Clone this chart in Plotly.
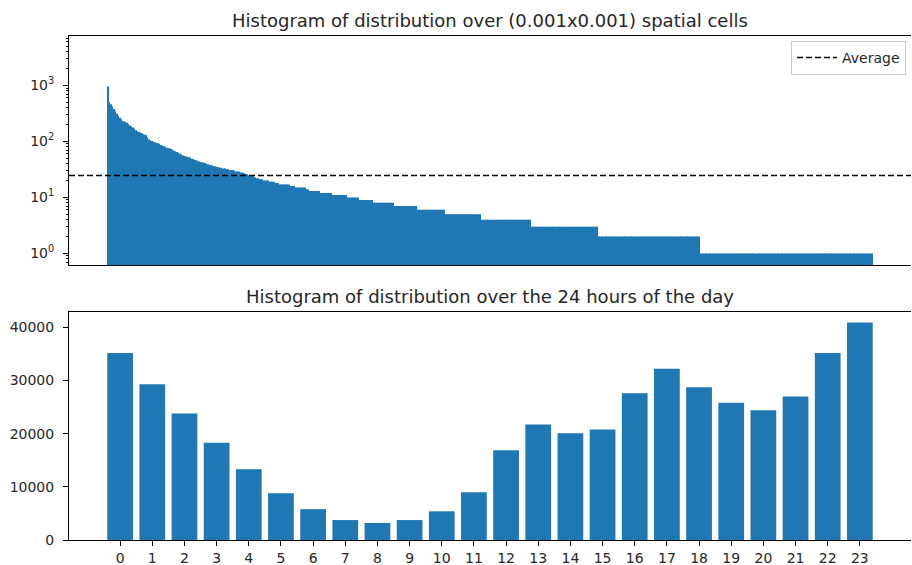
import math
import plotly.graph_objects as go

# ---------------- data ----------------
# Top chart: counts per spatial cell, sorted in decreasing order.
# The first cells are listed one by one, the long tail as (level, number of cells).
cell_head_counts = [
    960, 500, 460, 420, 380, 345, 312, 287, 266, 249,
    235, 228, 224, 215, 205, 192, 184, 178, 170, 158,
    152, 147, 144, 140, 134, 131, 129, 118, 108, 105,
    102, 99, 97, 94, 93, 91, 86, 84, 83, 80,
    77, 76, 75, 73, 72, 68, 66, 65, 63, 60,
    59, 56, 55, 54, 53, 52, 51, 49, 48, 47,
    46, 45, 44, 43, 42, 42, 41, 40, 39, 38,
    38, 37,
]
cell_tail_levels = [36, 35, 34, 33, 32, 31, 30, 29, 28, 27, 26, 25, 24, 23, 22, 21,
                    20, 19, 18, 17, 16, 15, 14, 13, 12, 11, 10, 9, 8, 7, 6, 5, 4, 3, 2, 1]
cell_tail_runs = [2, 2, 2, 3, 2, 3, 1, 3, 2, 2, 2, 3, 1, 1, 2, 3,
                  4, 4, 3, 7, 4, 7, 2, 8, 8, 10, 8, 10, 14, 16, 19, 24, 34, 46, 69, 118]
average_count = 24.5

# Bottom chart: number of records for each hour of the day.
hour_labels = [str(h) for h in range(24)]
hour_counts = [35200, 29300, 23800, 18300, 13300, 8800, 5800, 3750, 3200, 3750, 5400, 9000,
               16900, 21750, 20100, 20800, 27600, 32200, 28750, 25800, 24400, 27000, 35200, 40900]

top_title = "Histogram of distribution over (0.001x0.001) spatial cells"
bottom_title = "Histogram of distribution over the 24 hours of the day"

# ---------------- build ----------------
cell_counts = list(cell_head_counts)
for lvl, n in zip(cell_tail_levels, cell_tail_runs):
    cell_counts.extend([lvl] * n)
n_cells = len(cell_counts)
cell_idx = list(range(n_cells))
hour_pos = list(range(len(hour_counts)))

BLUE = "#1f77b4"
FONT = "DejaVu Sans"
TXT = "#262626"
TICK_SIZE = 14
TITLE_SIZE = 18
W, H = 912, 565
L, R = 69, 1


def py(px):
    return 1 - px / H


span = n_cells - 0.2
x_lo = -0.4 - 0.05 * span
x_hi = n_cells - 0.6 + 0.05 * span
hspan = len(hour_counts) - 0.2
hx_lo = -0.4 - 0.05 * hspan
hx_hi = len(hour_counts) - 0.6 + 0.05 * hspan

fig = go.Figure()
fig.add_trace(go.Bar(x=cell_idx, y=cell_counts, marker=dict(color=BLUE, line=dict(width=0)),
                     xaxis="x", yaxis="y", showlegend=False, hoverinfo="skip"))
fig.add_trace(go.Scatter(x=[x_lo, x_hi], y=[average_count, average_count], mode="lines",
                         line=dict(color="black", dash="6px,3px", width=1.5),
                         name="Average", xaxis="x", yaxis="y"))
fig.add_trace(go.Bar(x=hour_pos, y=hour_counts, marker=dict(color=BLUE, line=dict(width=0)),
                     xaxis="x2", yaxis="y2", showlegend=False))

minor_vals = [m * 10 ** k for k in range(-1, 4) for m in range(2, 10)]
axis_common = dict(showgrid=False, zeroline=False, showline=True, linecolor="black",
                   linewidth=1, tickcolor="black", tickwidth=1,
                   tickfont=dict(family=FONT, size=TICK_SIZE, color=TXT))

fig.update_layout(
    width=W, height=H, template="none",
    paper_bgcolor="white", plot_bgcolor="white",
    margin=dict(l=L, r=R, t=0, b=0, pad=0),
    bargap=0.2,
    font=dict(family=FONT, size=TICK_SIZE, color=TXT),
    xaxis=dict(domain=[0, 1], anchor="y", range=[x_lo, x_hi], showticklabels=False,
               ticks="", mirror=True, **axis_common),
    yaxis=dict(domain=[py(265), py(35.7)], anchor="x", type="log",
               range=[math.log10(0.62), 3.889],
               tickvals=[1, 10, 100, 1000],
               ticktext=["10<sup>0</sup>", "10<sup>1</sup>", "10<sup>2</sup>", "10<sup>3</sup>"],
               ticks="outside", ticklen=5, ticklabelstandoff=6,
               minor=dict(tickvals=minor_vals, ticks="outside", ticklen=2.5,
                          tickcolor="black", tickwidth=0.8),
               **axis_common),
    xaxis2=dict(domain=[0, 1], anchor="y2", range=[hx_lo, hx_hi],
                tickvals=hour_pos, ticktext=hour_labels, ticks="outside", ticklen=5,
                mirror=True, **axis_common),
    yaxis2=dict(domain=[py(540), py(311.7)], anchor="x2", range=[0, 42950],
                tickvals=[0, 10000, 20000, 30000, 40000], tickformat="d",
                ticks="outside", ticklen=5, ticklabelstandoff=6, **axis_common),
    legend=dict(x=(906 - L) / (W - L - R), xanchor="right", y=py(41), yanchor="top",
                bgcolor="white", bordercolor="#cccccc", borderwidth=1, itemwidth=40,
                font=dict(family=FONT, size=TICK_SIZE, color=TXT)),
    annotations=[
        dict(text=top_title, xref="paper", yref="paper", x=0.5, y=py(35.7),
             xanchor="center", yanchor="bottom", yshift=3, showarrow=False,
             font=dict(family=FONT, size=TITLE_SIZE, color=TXT)),
        dict(text=bottom_title, xref="paper", yref="paper", x=0.5, y=py(311.7),
             xanchor="center", yanchor="bottom", yshift=3, showarrow=False,
             font=dict(family=FONT, size=TITLE_SIZE, color=TXT)),
    ],
)

fig.write_html("out.html")
